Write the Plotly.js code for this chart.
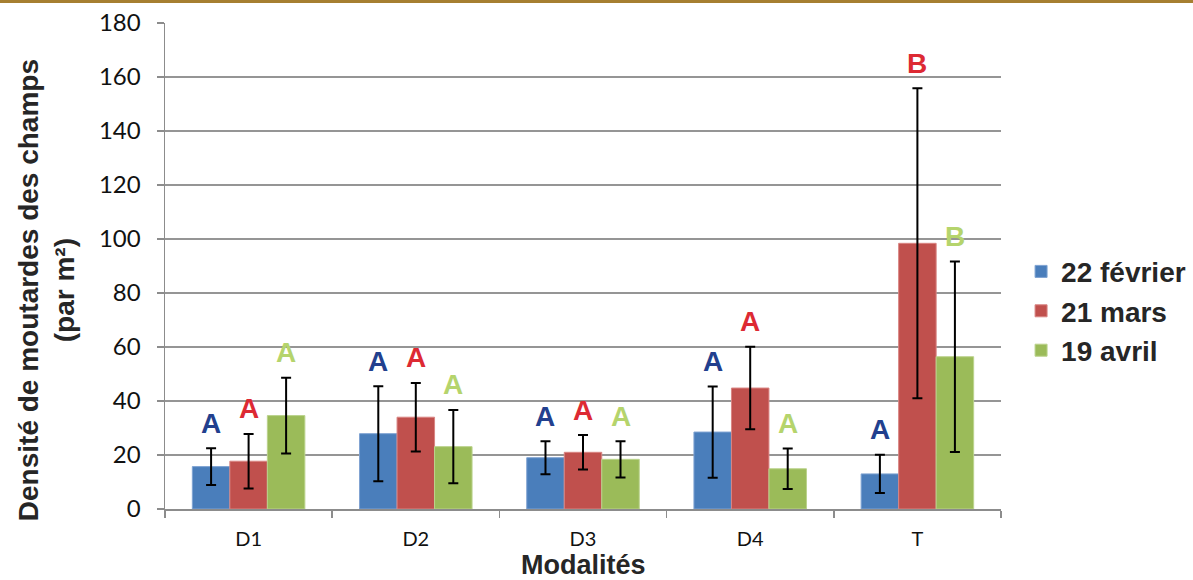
<!DOCTYPE html>
<html>
<head>
<meta charset="utf-8">
<script src="https://cdn.plot.ly/plotly-3.0.1.min.js"></script>
<style>
html,body{margin:0;padding:0;background:#fff;}
#chart{width:1193px;height:580px;}
</style>
</head>
<body>
<div id="chart"></div>
<script>
// ---- data ----
const categories = ["D1", "D2", "D3", "D4", "T"];
const seriesNames = ["22 février", "21 mars", "19 avril"];
const fevrier = [15.7, 27.9, 19.0, 28.5, 13.0];
const mars    = [17.7, 34.0, 21.0, 44.8, 98.4];
const avril   = [34.6, 23.1, 18.4, 14.9, 56.4];
const errFevrier = [6.8, 17.6, 6.1, 16.9, 7.1];
const errMars    = [10.1, 12.7, 6.4, 15.3, 57.4];
const errAvril   = [14.0, 13.6, 6.7, 7.5, 35.3];
const lettersFevrier = ["A", "A", "A", "A", "A"];
const lettersMars    = ["A", "A", "A", "A", "B"];
const lettersAvril   = ["A", "A", "A", "A", "B"];
const yTicks = [0, 20, 40, 60, 80, 100, 120, 140, 160, 180];

// ---- styles ----
const barColors = ["#4A7EBB", "#C0504D", "#9BBB59"];
const edgeColors = ["#7FA3D2", "#D98583", "#BBD38C"];
const letterColors = ["#22408E", "#DD2A33", "#B5D46C"];
const bargap = 0.327;

const values = [fevrier, mars, avril];
const errs = [errFevrier, errMars, errAvril];
const letters = [lettersFevrier, lettersMars, lettersAvril];

const traces = values.map((v, j) => ({
  type: "bar",
  name: seriesNames[j],
  x: categories,
  y: v,
  marker: {color: barColors[j], line: {color: edgeColors[j], width: 1}},
  error_y: {type: "data", array: errs[j], visible: true, color: "#000", thickness: 2, width: 5}
}));

const annotations = [];
const bw = (1 - bargap) / 3;
values.forEach((v, j) => {
  v.forEach((val, i) => {
    annotations.push({
      xref: "x", yref: "y",
      x: i + (j - 1) * bw,
      y: val + errs[j][i],
      text: letters[j][i],
      showarrow: false,
      yanchor: "middle",
      yshift: 25,
      font: {family: "Liberation Sans, Arial, sans-serif", size: 28, color: letterColors[j], weight: "bold"}
    });
  });
});

annotations.push({
  xref: "paper", yref: "paper",
  x: -0.1425, y: 0.45,
  xanchor: "center", yanchor: "middle",
  text: "<b>Densité de moutardes des champs<br>(par m²)</b>",
  textangle: -90,
  showarrow: false,
  font: {family: "Liberation Sans, Arial, sans-serif", size: 28, color: "#262626"}
});
annotations.push({
  xref: "paper", yref: "paper",
  x: 0.5, y: -0.1481,
  xanchor: "center", yanchor: "bottom",
  text: "<b>Modalités</b>",
  showarrow: false,
  borderpad: 0,
  font: {family: "Liberation Sans, Arial, sans-serif", size: 27, color: "#262626"}
});

const layout = {
  width: 1193, height: 580,
  margin: {l: 165, r: 192, t: 23, b: 71, pad: 0, autoexpand: false},
  paper_bgcolor: "#fff", plot_bgcolor: "#fff",
  barmode: "group",
  bargap: bargap,
  bargroupgap: 0,
  showlegend: true,
  legend: {
    x: 1.024, xanchor: "left",
    y: 0.407, yanchor: "middle",
    font: {family: "Liberation Sans, Arial, sans-serif", size: 28, color: "#262626", weight: "bold"},
    tracegroupgap: 0,
    itemwidth: 30
  },
  xaxis: {
    type: "category",
    showline: true, linecolor: "#8c8c8c", linewidth: 1.5,
    ticks: "outside", tickson: "boundaries", ticklen: 7, tickcolor: "#8c8c8c", tickwidth: 1.5,
    ticklabelstandoff: 11,
    showgrid: false,
    tickfont: {family: "Lato, sans-serif", size: 20, color: "#111"},
    fixedrange: true
  },
  yaxis: {
    range: [0, 180],
    tickvals: yTicks,
    ticktext: yTicks.map(String),
    showline: true, linecolor: "#8c8c8c", linewidth: 1.5,
    ticks: "outside", ticklen: 7, tickcolor: "#8c8c8c", tickwidth: 1.5,
    ticklabelstandoff: 11,
    showgrid: true, gridcolor: "#959595", gridwidth: 1.5,
    zeroline: false,
    tickfont: {family: "Lato, sans-serif", size: 24, color: "#111"},
    fixedrange: true
  },
  annotations: annotations,
  shapes: [{
    type: "line", xref: "paper", yref: "paper",
    x0: -0.25, x1: 1.3, y0: 1.0442, y1: 1.0442,
    line: {color: "#A67F31", width: 3}
  }]
};

Plotly.newPlot("chart", traces, layout, {staticPlot: true, displayModeBar: false});
</script>
</body>
</html>
